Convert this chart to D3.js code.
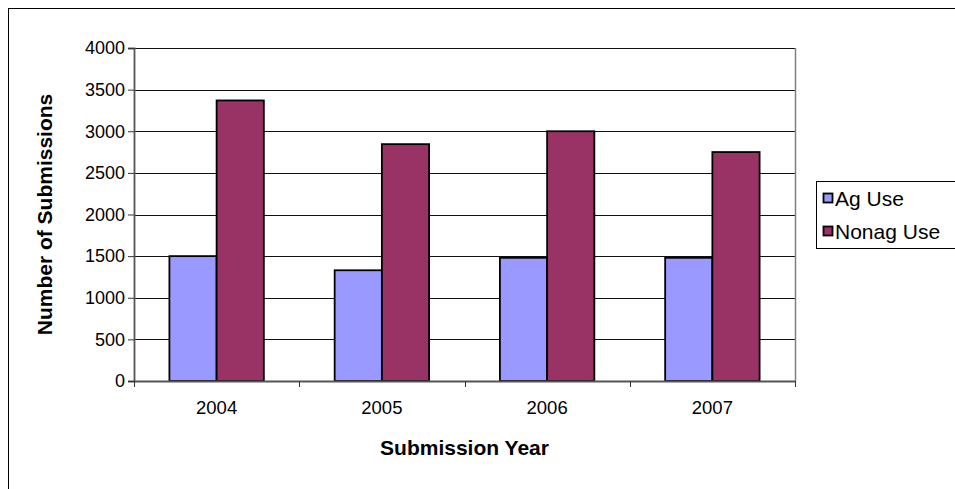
<!DOCTYPE html>
<html>
<head>
<meta charset="utf-8">
<script src="https://cdn.jsdelivr.net/npm/d3@7"></script>
<style>
  html, body { margin: 0; padding: 0; background: #fff; }
  svg { display: block; font-family: "Liberation Sans", Arial, sans-serif; }
</style>
</head>
<body>
<svg id="chart" width="955" height="489"></svg>
<script>
// Submissions per year, split by use type
const years = ["2004", "2005", "2006", "2007"];
const seriesNames = ["Ag Use", "Nonag Use"];
const agUse = [1500, 1330, 1480, 1480];
const nonagUse = [3370, 2845, 3000, 2750];
const yTicks = [0, 500, 1000, 1500, 2000, 2500, 3000, 3500, 4000];
const colors = ["#9999FF", "#993366"];

const svg = d3.select("#chart");
const W = 955, H = 489;

// outer chart frame
svg.append("rect")
  .attr("x", 8.5).attr("y", 8.5)
  .attr("width", W + 10).attr("height", H + 10)
  .attr("fill", "none").attr("stroke", "#000").attr("stroke-width", 1);

const plot = { left: 134, right: 795, top: 48, bottom: 381 };

const x0 = d3.scaleBand().domain(years).range([plot.left, plot.right]).paddingInner(0).paddingOuter(0);
const groupW = x0.bandwidth() * (2 / 3.5);     // gap width 150%
const x1 = d3.scaleBand().domain(seriesNames).range([0, groupW]);
const y = d3.scaleLinear().domain([0, 4000]).range([plot.bottom, plot.top]);

// gridlines
svg.append("g")
  .selectAll("line")
  .data(yTicks.filter(t => t > 0))
  .join("line")
  .attr("x1", plot.left).attr("x2", plot.right)
  .attr("y1", d => Math.round(y(d)) + 0.5).attr("y2", d => Math.round(y(d)) + 0.5)
  .attr("stroke", "#111").attr("stroke-width", 1);

// right plot border
svg.append("line")
  .attr("x1", plot.right + 0.5).attr("x2", plot.right + 0.5)
  .attr("y1", plot.top).attr("y2", plot.bottom)
  .attr("stroke", "#808080").attr("stroke-width", 1.5);

// bars
const data = years.map((yr, i) => ({ year: yr, values: [agUse[i], nonagUse[i]] }));
const groups = svg.append("g").selectAll("g")
  .data(data)
  .join("g")
  .attr("transform", d => `translate(${x0(d.year) + (x0.bandwidth() - groupW) / 2},0)`);

groups.selectAll("rect")
  .data(d => d.values.map((v, j) => ({ name: seriesNames[j], value: v, j })))
  .join("rect")
  .attr("x", d => x1(d.name))
  .attr("width", x1.bandwidth())
  .attr("y", d => y(d.value))
  .attr("height", d => y(0) - y(d.value))
  .attr("fill", d => colors[d.j])
  .attr("stroke", "#000").attr("stroke-width", 1.8);

// y axis
const yAxis = d3.axisLeft(y).tickValues(yTicks).tickSize(6).tickPadding(3).tickFormat(d3.format("d"));
const gy = svg.append("g").attr("transform", `translate(${plot.left},0)`).call(yAxis);
gy.select(".domain").attr("stroke", "#555").attr("stroke-width", 1.8);
gy.selectAll(".tick line").attr("stroke", "#333");
gy.selectAll(".tick text").attr("font-size", 18).attr("fill", "#000")
  .attr("font-family", "Liberation Sans, Arial, sans-serif");

// x axis
const xAxis = d3.axisBottom(x0).tickSize(0).tickPadding(20);
const gx = svg.append("g").attr("transform", `translate(0,${plot.bottom})`).call(xAxis);
gx.select(".domain").attr("stroke", "#555").attr("stroke-width", 1.8);
gx.selectAll(".tick text").attr("font-size", 18.5).attr("fill", "#000")
  .attr("font-family", "Liberation Sans, Arial, sans-serif");

// category boundary ticks
svg.append("g").selectAll("line")
  .data(years.map(yr => x0(yr)).concat([plot.right]))
  .join("line")
  .attr("x1", d => Math.round(d) + 0.5).attr("x2", d => Math.round(d) + 0.5)
  .attr("y1", plot.bottom).attr("y2", plot.bottom + 6)
  .attr("stroke", "#333");

// axis titles
svg.append("text")
  .attr("x", (plot.left + plot.right) / 2).attr("y", 455)
  .attr("text-anchor", "middle")
  .attr("font-size", 21).attr("font-weight", "bold")
  .text("Submission Year");

svg.append("text")
  .attr("transform", `translate(52,${(plot.top + plot.bottom) / 2}) rotate(-90)`)
  .attr("text-anchor", "middle")
  .attr("font-size", 21).attr("font-weight", "bold")
  .text("Number of Submissions");

// legend
const lg = svg.append("g").attr("transform", "translate(816,181)");
lg.append("rect")
  .attr("x", 0.5).attr("y", 0.5).attr("width", 160).attr("height", 67)
  .attr("fill", "#fff").attr("stroke", "#000");
seriesNames.forEach((name, i) => {
  const cy = 17 + i * 33;
  lg.append("rect")
    .attr("x", 7.5).attr("y", cy - 4.5).attr("width", 9).attr("height", 9)
    .attr("fill", colors[i]).attr("stroke", "#000").attr("stroke-width", 1.8);
  lg.append("text")
    .attr("x", 19).attr("y", cy).attr("dy", "0.36em")
    .attr("font-size", 21)
    .text(name);
});
</script>
</body>
</html>
